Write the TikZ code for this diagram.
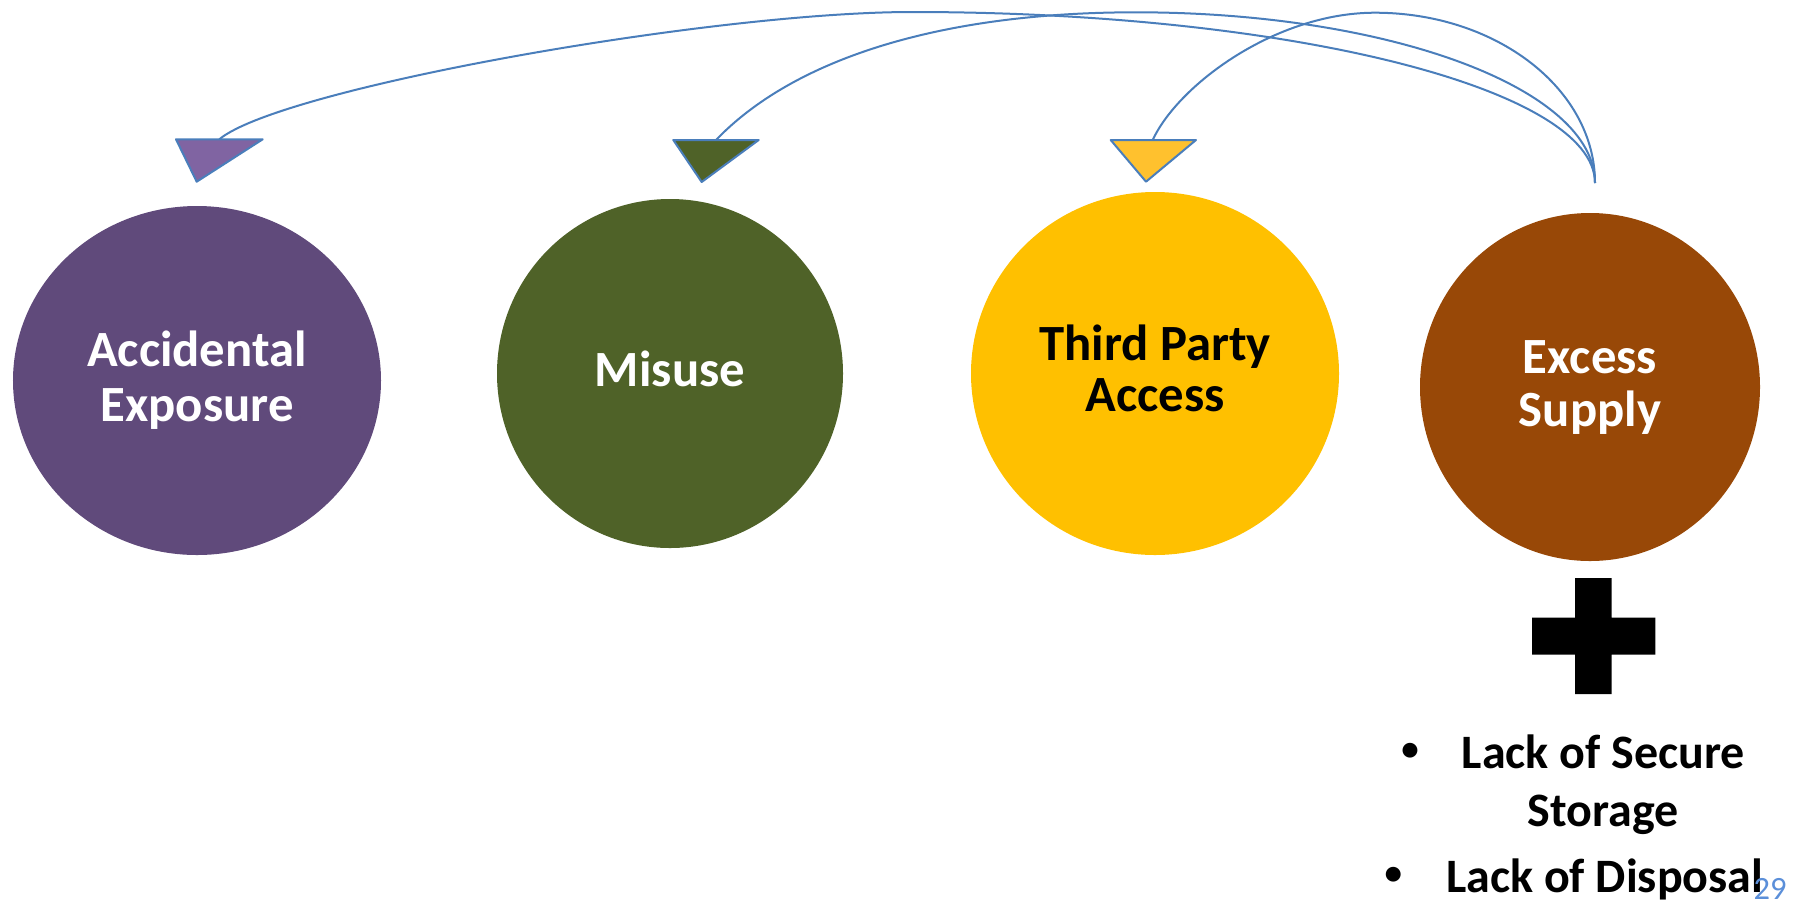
\documentclass[tikz,border=0pt]{standalone}
\usepackage{fontspec}
\setmainfont{Carlito}
\usetikzlibrary{shapes.geometric}
\definecolor{accfill}{HTML}{604A7B}
\definecolor{misfill}{HTML}{4F6228}
\definecolor{thrfill}{HTML}{FFC000}
\definecolor{excfill}{HTML}{984807}
\definecolor{tri1fill}{HTML}{8064A2}
\definecolor{tri2fill}{HTML}{4F6228}
\definecolor{tri3fill}{HTML}{FFC12E}
\definecolor{connblue}{HTML}{4A7EBB}
\definecolor{pageblue}{HTML}{5B8FD9}
\begin{document}
\begin{tikzpicture}[x=0.4pt,y=-0.4pt,
  circ/.style={ellipse, draw=none, inner sep=0pt},
  lbl/.style={font=\fontsize{20.3}{22}\selectfont\bfseries, anchor=base, inner sep=0pt},
  item/.style={font=\fontsize{19.2}{22}\selectfont\bfseries, anchor=base, inner sep=0pt},
  dot/.style={font=\fontsize{14}{16}\selectfont\bfseries, anchor=base, inner sep=0pt},
  conn/.style={draw=connblue, line width=0.8pt},
  tri/.style={draw=connblue, line width=0.8pt, line join=round}]
\useasboundingbox (0,0) rectangle (1806,902);
% circles
\node[circ, fill=accfill, minimum width=147.2pt, minimum height=139.6pt] (acc) at (197,380.5) {};
\node[circ, fill=misfill, minimum width=138.4pt, minimum height=139.6pt] (mis) at (670,373.5) {};
\node[circ, fill=thrfill, minimum width=147.2pt, minimum height=145.2pt] (thr) at (1155,373.5) {};
\node[circ, fill=excfill, minimum width=136pt, minimum height=139.2pt] (exc) at (1590,387) {};
% labels
\node[lbl, text=white] (accA) at (197,366.7) {Accidental};
\node[lbl, text=white] (accB) at (197,421.7) {Exposure};
\node[lbl, text=white] (misA) at (670,386.7) {Misuse};
\node[lbl, text=black] (thrA) at (1155,360) {Third Party};
\node[lbl, text=black] (thrB) at (1155,411.7) {Access};
\node[lbl, text=white] (excA) at (1590,373.3) {Excess};
\node[lbl, text=white] (excB) at (1590,426.7) {Supply};
% connector start and ends
\coordinate (src) at (1595,183);
\coordinate (t1) at (219.3,139.3);
\coordinate (t2) at (716,140);
\coordinate (t3) at (1152.7,140);
\draw[conn] (src) .. controls (1595,88.6) and (1289,12) .. (912,12)
  .. controls (712,12) and (281,88) .. (t1);
\draw[conn] (src) .. controls (1595,88.6) and (1389.4,12.3) .. (1136,12.3)
  .. controls (936,12.3) and (791.9,60.8) .. (t2);
\draw[conn] (src) .. controls (1595,89) and (1496.4,12.7) .. (1375,12.7)
  .. controls (1275,12.7) and (1177.9,85.4) .. (t3);
% triangles
\path[tri, fill=tri1fill] (176,139.3) -- (262.7,139.3) -- (196.7,181.7) -- cycle;
\path[tri, fill=tri2fill] (673.3,140) -- (758.7,140) -- (701.7,182) -- cycle;
\path[tri, fill=tri3fill] (1110.7,140) -- (1196,140) -- (1146,181.7) -- cycle;
% plus sign
\fill[black] (1575.2,578) -- (1611.5,578) -- (1611.5,617.7) -- (1655.3,617.7)
  -- (1655.3,654.7) -- (1611.5,654.7) -- (1611.5,694) -- (1575.2,694)
  -- (1575.2,654.7) -- (1532,654.7) -- (1532,617.7) -- (1575.2,617.7) -- cycle;
% bullet list
\node[dot] (b1) at (1410,760) {•};
\node[item] (l1a) at (1603.3,768.3) {Lack of Secure};
\node[item] (l1b) at (1603,826.7) {Storage};
\node[dot] (b2) at (1393.3,884) {•};
\node[item] (l2) at (1604.7,892.3) {Lack of Disposal};
% page number
\node[anchor=base east, inner sep=0pt, text=pageblue, font=\fontsize{13}{15}\selectfont] (pg) at (1787,899) {29};
\end{tikzpicture}
\end{document}
